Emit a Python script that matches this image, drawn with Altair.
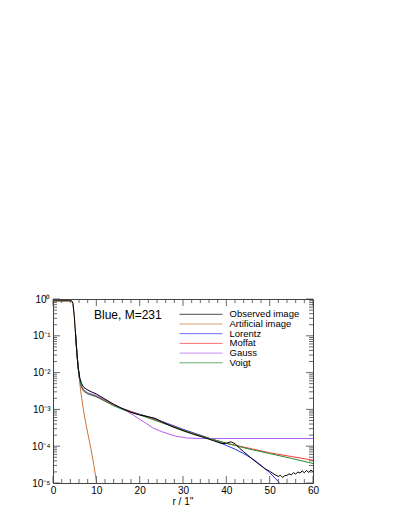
import altair as alt
import pandas as pd
import numpy as np

# ---- data (log10 of normalised intensity) ----
obs_r = [0, 4.3, 4.6, 4.9, 5.2, 5.5, 5.8, 6.2, 6.6, 7.1, 7.8, 8.8, 10, 12, 14, 15.5, 18, 20, 22, 23.5, 25, 27.5, 30,
         32.5, 35, 37, 39, 40, 41, 42, 43, 44, 45, 46, 47, 48, 49, 50, 51, 52, 52.5, 53, 53.5, 54, 54.5, 55, 55.5,
         56, 56.5, 57, 57.5, 58, 58.5, 59, 59.5, 60]
obs_lg = [-0.05, -0.05, -0.12, -0.45, -0.95, -1.45, -1.85, -2.15, -2.3, -2.4, -2.46, -2.52, -2.58, -2.72, -2.86, -2.95,
          -3.08, -3.15, -3.2, -3.24, -3.33, -3.47, -3.58, -3.68, -3.77, -3.85, -3.93, -3.92, -3.88, -3.93, -4.05,
          -4.15, -4.25, -4.35, -4.44, -4.53, -4.62, -4.68, -4.76, -4.82, -4.79, -4.85, -4.8, -4.79, -4.75, -4.78,
          -4.72, -4.76, -4.7, -4.73, -4.67, -4.72, -4.66, -4.71, -4.65, -4.69]

art_r = [0, 4.3, 4.6, 4.9, 5.2, 5.5, 5.8, 6.1, 6.5, 7.0, 7.6, 8.2, 8.8, 9.4, 10.1]
art_lg = [-0.05, -0.05, -0.12, -0.45, -0.95, -1.45, -1.85, -2.2, -2.6, -3.0, -3.4, -3.75, -4.1, -4.5, -5.0]

lor_r = [5.2, 5.5, 5.8, 6.1, 6.5, 7.0, 8.0, 10, 12, 14, 16, 18, 20, 22.5, 25, 30, 35, 38, 40, 42, 44, 46, 48, 50, 51, 52, 52.6]
lor_lg = [-0.95, -1.45, -1.85, -2.15, -2.35, -2.47, -2.56, -2.64, -2.76, -2.88, -2.98, -3.06, -3.13, -3.22, -3.32,
          -3.54, -3.74, -3.87, -3.98, -4.08, -4.2, -4.34, -4.52, -4.72, -4.84, -4.96, -5.06]

mof_r = [5.2, 5.5, 5.8, 6.1, 6.5, 7.0, 8.0, 10, 12, 14, 16, 18, 20, 22.5, 25, 30, 35, 40, 45, 50, 55, 60]
mof_lg = [-0.95, -1.45, -1.85, -2.15, -2.35, -2.47, -2.56, -2.64, -2.76, -2.88, -2.98, -3.06, -3.14, -3.23, -3.34,
          -3.56, -3.75, -3.92, -4.05, -4.18, -4.28, -4.38]

gau_r = [5.2, 5.5, 5.8, 6.1, 6.5, 7.0, 8.0, 10, 12, 14, 16, 18.5, 20, 21.5, 23, 25, 28, 31, 34, 60]
gau_lg = [-0.95, -1.45, -1.85, -2.15, -2.35, -2.46, -2.55, -2.62, -2.74, -2.86, -2.98, -3.15, -3.27, -3.38, -3.5,
          -3.6, -3.72, -3.78, -3.79, -3.79]

voi_r = [5.2, 5.5, 5.8, 6.1, 6.5, 7.0, 8.0, 10, 12, 14, 16, 18, 20, 25, 30, 35, 40, 45, 50, 55, 60]
voi_lg = [-0.95, -1.45, -1.85, -2.15, -2.37, -2.5, -2.58, -2.66, -2.78, -2.9, -3.0, -3.08, -3.15, -3.36, -3.56,
          -3.75, -3.92, -4.07, -4.2, -4.33, -4.47]

series_names = ["Observed image", "Artificial image", "Lorentz", "Moffat", "Gauss", "Voigt"]
series_colors = ["#000000", "#c8743c", "#2f2fff", "#ff3333", "#b45cf0", "#1f8f2f"]
series_data = [(obs_r, obs_lg), (art_r, art_lg), (lor_r, lor_lg), (mof_r, mof_lg), (gau_r, gau_lg), (voi_r, voi_lg)]

x_major = [0, 10, 20, 30, 40, 50, 60]
y_major = [1e-5, 1e-4, 1e-3, 1e-2, 1e-1, 1.0]
x_title = "r / 1''"
panel_label = "Blue, M=231"

W, H = 260, 184
FONT = "Liberation Sans"

xs = alt.Scale(domain=[0, 60], nice=False, zero=False)
ys = alt.Scale(type="log", domain=[1e-5, 1.0], nice=False)

frames = []
for name, (r, lg) in zip(series_names, series_data):
    frames.append(pd.DataFrame({"r": r, "I": np.power(10.0, lg), "series": name}))

layers = []
# draw models first, observed last (on top)
draw_order = [1, 2, 3, 4, 5, 0]
for i in draw_order:
    layers.append(
        alt.Chart(frames[i]).mark_line(clip=True, strokeWidth=1, color=series_colors[i]).encode(
            x=alt.X("r:Q", scale=xs,
                    axis=alt.Axis(values=x_major, ticks=False, domain=False, grid=False, labelFontSize=10,
                                  labelPadding=2, labelFont=FONT, labelColor="#000", title=None)),
            y=alt.Y("I:Q", scale=ys,
                    axis=alt.Axis(values=y_major, ticks=False, domain=False, grid=False, labelFontSize=10,
                                  labelPadding=3, labelFont=FONT, labelColor="#000", title=None,
                                  labelExpr="datum.value >= 0.5 ? '10⁰' : datum.value >= 0.05 ? '10⁻¹' : "
                                            "datum.value >= 0.005 ? '10⁻²' : datum.value >= 0.0005 ? '10⁻³' : "
                                            "datum.value >= 0.00005 ? '10⁻⁴' : '10⁻⁵'")),
        )
    )

# ---- inward ticks (IDL style) ----
x_minor = [v for v in range(0, 61, 2) if v % 10 != 0]
y_minor = [k * 10.0 ** e for e in range(-5, 0) for k in range(2, 10)]
tx_major = pd.DataFrame({"r": x_major})
tx_minor = pd.DataFrame({"r": x_minor})
ty_major = pd.DataFrame({"I": y_major})
ty_minor = pd.DataFrame({"I": y_minor})
tick_col = "#444"
for df, ln in [(tx_major, 7), (tx_minor, 4)]:
    layers.append(alt.Chart(df).mark_rule(color=tick_col, strokeWidth=0.8).encode(
        x=alt.X("r:Q", scale=xs), y=alt.value(H), y2=alt.value(H - ln)))
    layers.append(alt.Chart(df).mark_rule(color=tick_col, strokeWidth=0.8).encode(
        x=alt.X("r:Q", scale=xs), y=alt.value(0), y2=alt.value(ln)))
for df, ln in [(ty_major, 7), (ty_minor, 4)]:
    layers.append(alt.Chart(df).mark_rule(color=tick_col, strokeWidth=0.8).encode(
        y=alt.Y("I:Q", scale=ys), x=alt.value(0), x2=alt.value(ln)))
    layers.append(alt.Chart(df).mark_rule(color=tick_col, strokeWidth=0.8).encode(
        y=alt.Y("I:Q", scale=ys), x=alt.value(W), x2=alt.value(W - ln)))

# ---- annotation ----
layers.append(alt.Chart(pd.DataFrame({"t": [panel_label]})).mark_text(
    align="left", baseline="middle", fontSize=12, font=FONT, color="#000").encode(
    text="t:N", x=alt.value(41), y=alt.value(16)))

# ---- x axis title ----
layers.append(alt.Chart(pd.DataFrame({"t": [x_title]})).mark_text(
    align="center", baseline="middle", fontSize=10, font=FONT, color="#000").encode(
    text="t:N", x=alt.value(W / 2), y=alt.value(H + 19)))

# ---- legend drawn inside the plot ----
for i, (name, col) in enumerate(zip(series_names, series_colors)):
    yy = 15.3 + i * 9.7
    layers.append(alt.Chart(pd.DataFrame({"t": [name]})).mark_rule(color=col, strokeWidth=1, opacity=0.7).encode(
        x=alt.value(126.5), x2=alt.value(169.5), y=alt.value(yy)))
    layers.append(alt.Chart(pd.DataFrame({"t": [name]})).mark_text(
        align="left", baseline="middle", fontSize=9.5, font=FONT, color="#000").encode(
        text="t:N", x=alt.value(176.5), y=alt.value(yy)))

chart = alt.layer(*layers).properties(
    width=W, height=H,
    autosize=alt.AutoSizeParams(type="none"),
    padding={"left": 45, "top": 291, "right": 60, "bottom": 25},
).configure_view(stroke="#444", strokeWidth=1).configure_axis(labelFlush=False)

chart.save("out.html", embed_options={"renderer": "svg", "actions": False})
